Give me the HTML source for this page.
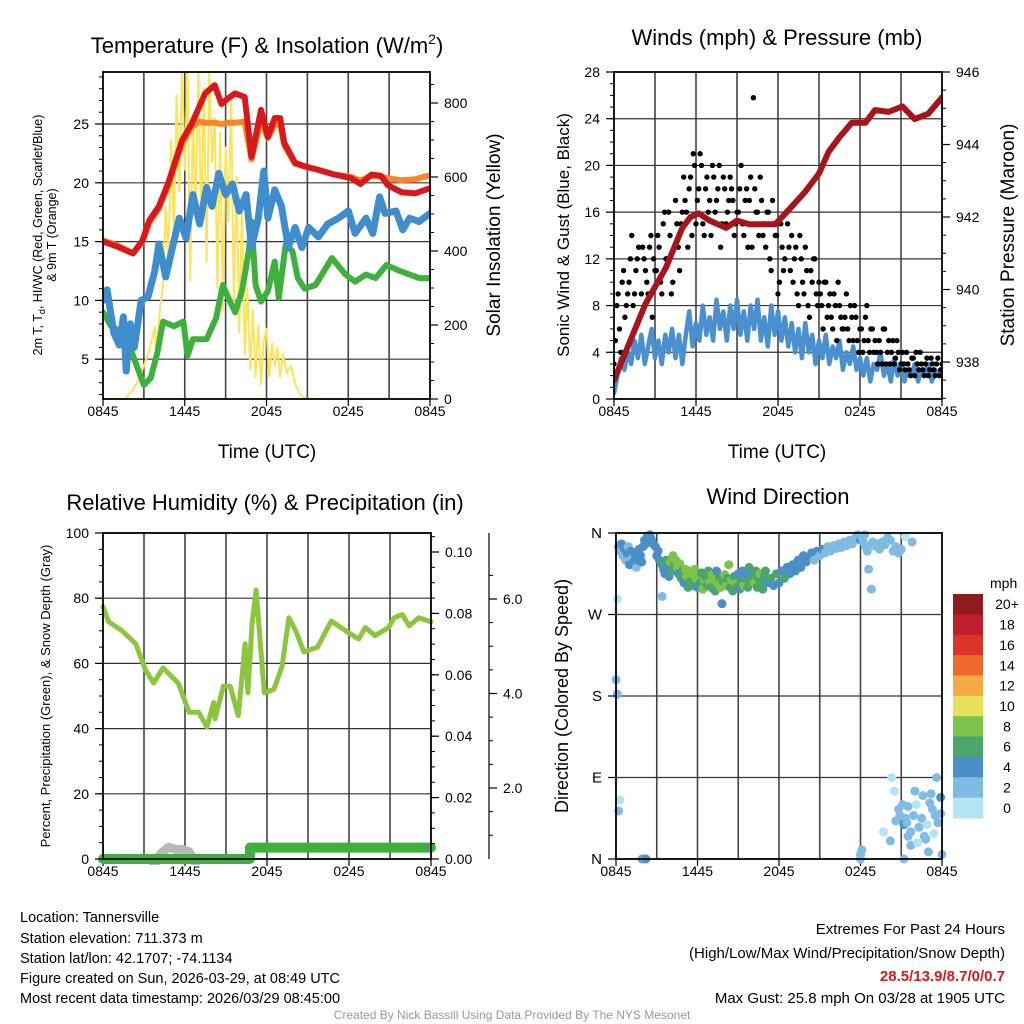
<!DOCTYPE html>
<html><head><meta charset="utf-8">
<style>
html,body{margin:0;padding:0;background:#fff;}
svg{display:block;font-family:"Liberation Sans",Arial,sans-serif;}
</style></head>
<body>
<svg id="c" width="1024" height="1024" viewBox="0 0 1024 1024" xmlns="http://www.w3.org/2000/svg">
<rect width="1024" height="1024" fill="#fff"/>
<text x="267" y="53" font-size="22" text-anchor="middle">Temperature (F) &amp; Insolation (W/m<tspan font-size="14" dy="-9">2</tspan><tspan dy="9">)</tspan></text>
<text x="777" y="45" font-size="22" text-anchor="middle">Winds (mph) &amp; Pressure (mb)</text>
<text x="265" y="510" font-size="22" text-anchor="middle">Relative Humidity (%) &amp; Precipitation (in)</text>
<text x="778" y="504" font-size="22" text-anchor="middle">Wind Direction</text>

<text transform="translate(42,235) rotate(-90)" font-size="12.5" text-anchor="middle">2m T, T<tspan font-size="9" dy="3">d</tspan><tspan dy="-3">, HI/WC (Red, Green, Scarlet/Blue)</tspan></text>
<text transform="translate(56,235) rotate(-90)" font-size="12.5" text-anchor="middle">&amp; 9m T (Orange)</text>
<text transform="translate(500,235) rotate(-90)" font-size="19" text-anchor="middle">Solar Insolation (Yellow)</text>
<text x="267" y="458" font-size="19" text-anchor="middle">Time (UTC)</text>
<text x="777" y="458" font-size="19" text-anchor="middle">Time (UTC)</text>
<text transform="translate(569,235) rotate(-90)" font-size="17" text-anchor="middle">Sonic Wind &amp; Gust (Blue, Black)</text>
<text transform="translate(1014,235) rotate(-90)" font-size="19" text-anchor="middle">Station Pressure (Maroon)</text>
<text transform="translate(50,696) rotate(-90)" font-size="13" text-anchor="middle">Percent, Precipitation (Green), &amp; Snow Depth (Gray)</text>
<text transform="translate(568,696) rotate(-90)" font-size="18" text-anchor="middle">Direction (Colored By Speed)</text>

<g font-size="14.5">
<text x="20" y="922">Location: Tannersville</text>
<text x="20" y="943">Station elevation: 711.373 m</text>
<text x="20" y="963">Station lat/lon: 42.1707; -74.1134</text>
<text x="20" y="983">Figure created on Sun, 2026-03-29, at 08:49 UTC</text>
<text x="20" y="1003">Most recent data timestamp: 2026/03/29 08:45:00</text>
</g>
<g font-size="15" text-anchor="end">
<text x="1005" y="934">Extremes For Past 24 Hours</text>
<text x="1005" y="958">(High/Low/Max Wind/Precipitation/Snow Depth)</text>
<text x="1005" y="981" fill="#d7191c" font-weight="bold">28.5/13.9/8.7/0/0.7</text>
<text x="1005" y="1003">Max Gust: 25.8 mph On 03/28 at 1905 UTC</text>
</g>
<text x="512" y="1019" font-size="12" fill="#999" text-anchor="middle">Created By Nick Bassill Using Data Provided By The NYS Mesonet</text>
<g id="g"></g>
</svg>
<script>
// ---------- DATA ----------
const xTickLabels = ["0845","1445","2045","0245","0845"];
// Panel 1 (hours since 0845)
const tempHours = [0,1,2.2,2.9,3.4,4.1,4.8,5.3,5.8,6.5,7,7.5,8.2,8.7,9.2,9.7,10.4,10.9,11.6,12.1,12.6,13,13.3,14.1,14.8,15.8,17,18.2,18.9,19.7,20.4,20.9,21.9,22.9,23.9];
const tempF = [15,14.6,14,15.1,16.8,18,20,21.8,23.6,25,26.3,27.6,28.3,26.7,27.2,27.6,27.3,22.2,26.2,23.9,25.5,25.5,23.4,21.7,21.4,21.1,20.7,20.4,19.9,20.7,20.6,19.8,19.2,19.1,19.5];
const temp9m = [15.1,14.7,14,15,16.6,17.8,19.8,21.5,23.3,24.7,25.2,25.1,25.1,25,25.1,25.1,25.2,22,25.2,23.8,24.9,25,23.2,21.6,21.4,21.1,20.7,20.5,20.2,20.6,20.5,20.4,20.2,20.3,20.6];
const chillHours = [0,0.3,0.8,1.2,1.5,1.7,2,2.3,2.8,3.3,3.8,4.1,4.6,5.1,5.6,6.1,6.6,7.1,7.6,8,8.5,9,9.5,10,10.5,10.9,11.4,11.8,12.1,12.6,13.1,13.6,14.1,14.6,15.1,15.8,16.5,17.3,18,18.5,19.3,19.8,20.3,20.7,21.5,22,22.5,23.2,24];
const windChill = [10,10.9,7.2,6.2,8.6,4,8,6,10,10.3,12.5,14.8,12,14.5,17,15.3,19,16.5,19.6,18,20.8,19,19.9,17.6,19,14.5,17,21,17,19.4,18,14.5,16.2,14.5,16.2,15.4,16.5,17,17.6,15.7,17,15.7,18.8,17.4,17.6,16,17,16.7,17.4];
const dewHours = [0,0.6,1.6,2.3,3,3.5,4,4.4,5.2,5.9,6.2,6.6,7.6,8.3,8.8,9.2,9.7,10.2,10.7,10.9,11.2,11.6,12.1,12.6,12.9,13.4,13.9,14.3,14.8,15.6,16.8,17.8,18.5,19.3,20,20.8,21.8,23.2,24];
const dewF = [9,7.8,7.2,5,2.8,3.4,5.6,8.2,7.8,8.2,5.3,6.7,6.7,8.5,11.3,10.2,9,10.8,14.2,16.7,11.3,9.9,10.8,13.3,10.2,14.7,14.2,11.9,11,11.3,13.6,12.2,11.6,12.2,11.9,13,12.5,11.9,11.9];
const solarHours = [0,1.6,2.2,2.6,3,3.4,3.8,3.9,4.2,4.4,4.6,4.8,5,5.2,5.4,5.6,5.8,6,6.2,6.4,6.6,6.8,7,7.2,7.4,7.6,7.8,8,8.2,8.4,8.6,8.8,9,9.2,9.4,9.6,9.8,10,10.2,10.4,10.6,10.8,11,11.2,11.4,11.6,11.8,12,12.2,12.4,12.6,12.8,13,13.2,13.5,13.8,14.1,14.5,15,24];
const solarW = [0,0,25,51,90,132,195,123,250,303,520,380,700,450,820,560,889,620,889,320,760,520,889,470,840,370,889,640,760,300,720,240,680,480,820,260,600,180,520,120,300,80,240,60,200,40,160,190,60,150,90,140,60,120,70,90,40,10,0,0];
// Panel 2
const sonicWind = [0.5,2,3.5,2.5,4,3,5,3.5,5.5,3,4.5,6,3.5,5,3,5.5,4,6,3.5,5.5,3,5.5,7.5,4.5,6.5,5,8,5.5,7,5,8.5,6,7.5,5,8,6,8.5,5.5,7.5,5,8,6,8.5,5,7,4.5,8,5.5,7.5,5,7,4.5,6.5,4,6,3.5,6.5,4,5.5,3,5,3.5,5.5,3,4.5,3.5,5,2.5,4,3,4.5,2.5,3.5,2,3.5,1.5,3,2.5,4,2,3,1.5,3.5,2,3,1.5,2.5,2,3,1.5,2.5,2,3,1.5,2.5,2,2.5];
const pressHours = [0,1.1,2.3,3.8,5,5.6,6.2,7,8.2,9,9.9,11,11.8,12.8,14,15,15.7,16.5,17.4,18.4,19.1,20.1,21.1,22,23,24];
const pressMb = [937.5,938.5,939.6,940.6,941.7,942,942.1,941.9,941.7,941.9,941.8,941.8,941.8,942.2,942.7,943.2,943.8,944.2,944.6,944.6,944.95,944.9,945.05,944.7,944.85,945.3];
const gustMph = [3,8,6,10,7,9,12,8,11,13,9,12,10,13,7,11,14,10,15,12,16,9,13,15,11,16,17,13,19,21,15,18,20,14,19,17,20,16,18,13,19,15,17,18,14,16,18,15,17,13,19,25.8,16,14,17,15,16,12,17,14,9,15,11,16,13,14,12,9,14,10,13,8,11,12,9,10,8,10,7,9,6,8,10,7,6,9,5,7,8,5,6,4,7,5,6,4,4,5,3,6,4,3,5,3.5,4,3,3,4,2.5,3.5,2,3,4,2.5,3,2,3.5,2.5,3,2,3];
const gustMph2 = [5,9,4,11,8,10,14,9,12,7,13,11,9,14,12,11,13,9,16,12,14,10,17,13,15,19,16,18,14,20,17,21,15,18,16,14,19,17,20,15,18,16,19,17,15,16,20,14,18,17,13,18,16,19,14,13,16,11,15,14,10,13,12,15,11,10,13,8,12,9,11,7,10,12,8,9,6,10,8,7,9,5,8,6,7,6,8,5,7,4,6,5,8,4,6,5,3,4,6,3,5,4,3,5,2.5,4,2.5,3,2,3.5,4,2.5,3,2,3.5,2.5,3,2,3.5,2.5];
// Panel 3
const rhHours = [0,0.4,1.4,2.4,3.1,3.7,4.4,5.5,6.3,7,7.6,8.1,8.2,8.8,9.3,9.9,10.4,10.6,10.9,11.2,11.8,12.5,13.1,13.6,14.1,14.7,15.7,16.7,17.9,18.7,19.2,19.9,20.9,21.3,21.9,22.4,23.1,24];
const rhPct = [77.4,72.8,70,66,58,54,58.6,54,45,45,40.5,48,43,53,53,44,66,51,72,82.5,51,52,59,74,70,63.5,65,73,69.6,67.5,71,68.5,71,74,75,71.5,74,72.8];
const precipHours = [0,10.75,10.75,24];
const precipIn = [0,0,0.0037,0.0037];
const snowHours = [3.7,4.2,4.8,5.3,5.8,6.3,6.8];
const snowDepth = [0.35,0.6,0.75,0.7,0.7,0.65,0.4];
// Panel 4
const dirHours = [0.2,0.3,0.4,0.5,0.6,0.7,0.8,0.9,1.0,1.1,1.2,1.3,1.4,1.5,1.6,1.7,1.8,1.9,2.0,
 2.1,2.2,2.3,2.4,2.5,2.6,2.7,2.8,2.9,3.0,3.1,3.2,
 3.4,3.5,3.6,3.7,3.8,3.9,4.0,4.1,4.2,4.3,4.4,4.5,4.6,4.7,4.8,4.9,5.0,5.1,5.2,5.3,5.4,5.5,5.6,5.7,5.8,5.9,
 6.0,6.1,6.2,6.3,6.4,6.5,6.6,6.7,6.8,6.9,7.0,7.1,7.2,7.3,7.4,7.5,7.6,7.7,7.8,7.9,8.0,8.1,8.2,8.3,8.4,8.5,8.6,8.7,8.8,8.9,9.0,9.1,9.2,9.3,9.4,9.5,9.6,9.7,9.8,9.9,10.0,10.1,10.2,10.3,10.4,10.5,10.6,10.7,10.8,10.9,11.0,11.2,11.4,11.6,11.8,
 12.0,12.2,12.4,12.6,12.8,13.0,13.2,13.4,13.6,13.8,14.0,14.2,14.4,14.6,14.8,15.0,15.2,
 15.4,15.6,15.8,16.0,16.2,16.4,16.6,16.8,17.0,17.2,17.4,17.6,
 17.8,17.9,18.0,18.1,18.2,18.3,18.4,18.5,18.6,18.8,18.9,19.0,19.2,19.4,19.6,19.8,20.0,20.2,20.4,20.6,20.8,21.0,21.3,21.8,
 0.1,0.0,0.1,0.3,0.2,3.4,1.9,2.0,2.1,2.2,
 18.0,18.0,18.1,20.3,20.5,20.8,20.6,20.9,21.1,21.3,21.5,21.2,21.7,21.9,22.1,22.3,22.5,22.7,22.9,23.1,23.3,23.5,23.7,23.9,23.6,23.9,23.2,22.6,22.0,21.7,21.5,21.2,22.2,22.8,24.0,23.4,19.7,21.4,20.2,23.0];
const dirDeg = [345,340,348,335,343,330,338,345,325,340,332,328,336,322,330,342,335,328,345,
 352,348,356,350,358,353,349,347,345,335,340,330,
 325,320,315,330,322,312,328,318,335,325,330,322,315,326,310,318,305,320,312,300,318,307,315,302,320,310,
 300,312,305,316,298,308,312,302,318,306,300,314,308,296,318,304,312,300,282,306,314,302,310,325,300,308,296,312,304,300,315,298,306,318,302,310,314,300,322,308,316,312,305,318,300,310,315,306,298,312,318,305,310,302,315,
 305,318,310,322,315,325,318,330,322,335,328,332,338,330,340,335,342,
 338,345,340,346,343,348,344,350,346,352,348,354,
 358,355,352,356,350,358,345,340,320,298,350,346,348,342,350,347,355,352,340,345,338,342,356,350,
 287,198,182,65,53,290,0,0,0,0,
 5,0,10,90,75,55,42,48,60,45,58,38,30,48,60,35,45,25,38,62,55,48,40,50,90,68,72,70,75,15,25,0,18,22,5,28,30,40,20,8];
const dirSpeed = [4,3,4,3,4,2,4,3,4,4,3,4,4,2,4,4,5,4,4,
 5,4,4,4,4,4,4,4,4,4,4,4,
 6,4,4,6,4,4,8,6,8,6,8,8,4,8,6,6,4,8,8,6,8,6,8,6,8,8,
 4,8,6,6,8,8,6,6,6,8,6,8,8,6,4,8,6,8,4,6,8,8,6,8,6,8,6,6,8,6,4,4,6,4,8,6,4,6,6,6,4,6,8,6,6,6,8,6,6,6,6,4,6,4,6,
 4,4,6,4,4,4,4,4,4,4,4,4,4,3,4,3,4,
 2,3,2,2,3,2,2,3,2,2,3,2,
 2,2,4,3,2,2,2,2,2,2,2,2,2,3,2,2,2,2,3,2,3,2,1,2,
 1,2,2,1,3,2,3,4,3,4,
 3,2,3,1,1,3,2,3,2,3,3,4,2,2,1,3,2,3,1,3,2,3,2,3,3,4,3,2,3,3,2,2,1,2,2,1,1,2,2,2];
const legendLabels = ["20+","18","16","14","12","10","8","6","4","2","0"];
const speedColors = ["#b5e3f6","#7fbbe3","#4a8fc6","#4aa56e","#7dc24a","#e8e05a","#f5a945","#ee6a2c","#dc3528","#be1e2d","#8e1b1e"];

// ---------- DRAW ----------
const NS="http://www.w3.org/2000/svg";
const G=document.getElementById('g');
function mk(tag,attrs,parent){const e=document.createElementNS(NS,tag);for(const k in attrs)e.setAttribute(k,attrs[k]);(parent||G).appendChild(e);return e;}
function lin(d0,d1,r0,r1){return v=>r0+(v-d0)*(r1-r0)/(d1-d0);}
function stepHours(n,start,step){const r=[];for(let i=0;i<n;i++)r.push(start+i*step);return r;}

function panel(P){
  const g=mk('g',{});
  
  
  for(let h=3;h<24;h+=3){const l=mk('line',{x1:P.x(h),x2:P.x(h),y1:P.top,y2:P.bot,stroke:'#444','stroke-width':1.6},g);
    }
  P.hgrid.forEach(v=>{const l=mk('line',{x1:P.l,x2:P.r,y1:P.y(v),y2:P.y(v),stroke:'#333','stroke-width':1.2},g);
    });
  xTickLabels.forEach((s,i)=>{const xx=P.x(i*6);
    mk('line',{x1:xx,x2:xx,y1:P.bot,y2:P.bot+7,stroke:'#000','stroke-width':1.2},g);
    const t=mk('text',{x:xx,y:P.bot+17,'font-size':14,'text-anchor':'middle'},g);t.textContent=s;
    });
  return g;
}
function frame(P,g){mk('rect',{x:P.l,y:P.top,width:P.r-P.l,height:P.bot-P.top,fill:'none',stroke:'#000','stroke-width':1.8},g);}
function yAxis(g,xpos,side,y,ticks,labels,minor,fs){
  ticks.forEach((v,i)=>{const yy=y(v);mk('line',{x1:xpos,x2:xpos+side*8,y1:yy,y2:yy,stroke:'#000','stroke-width':1.2},g);
    const t=mk('text',{x:xpos+side*14,y:yy+5,'font-size':fs||14,'text-anchor':side<0?'end':'start'},g);t.textContent=labels[i];
    });
  minor.forEach(v=>mk('line',{x1:xpos,x2:xpos+side*4,y1:y(v),y2:y(v),stroke:'#000','stroke-width':1},g));
}
function path(g,xs,ys,fx,fy,col,w,name){const d=xs.map((h,i)=>(i?'L':'M')+fx(h).toFixed(1)+','+fy(ys[i]).toFixed(1)).join('');
  const p=mk('path',{d:d,fill:'none',stroke:col,'stroke-width':w,'stroke-linejoin':'round','stroke-linecap':'round'},g);
  return p;}
function rng(a,b,s){const r=[];for(let v=a;v<=b+1e-9;v+=s)r.push(+v.toFixed(4));return r;}

// Panel 1
{const P={name:'temperature-panel',l:103,r:430,top:72,bot:399};
 P.x=lin(0,24,P.l,P.r);P.y=lin(0,25,418,124);P.hgrid=[5,10,15,20,25];
 const ys=lin(0,800,399,103);
 const g=panel(P);
 const cp=mk('clipPath',{id:'cp1'},g);mk('rect',{x:P.l,y:P.top,width:P.r-P.l,height:P.bot-P.top},cp);
 const d=mk('g',{'clip-path':'url(#cp1)'},g);
 path(d,solarHours,solarW,P.x,ys,'#fde35a',2,'solar-line');
 path(d,dewHours,dewF,P.x,P.y,'#3db03d',6,'dewpoint-line');
 path(d,chillHours,windChill,P.x,P.y,'#3f8dcc',7,'windchill-line');
 path(d,tempHours,temp9m,P.x,P.y,'#f5862a',6,'temp-9m-line');
 path(d,tempHours,tempF,P.x,P.y,'#d7191c',6,'temp-2m-line');
 frame(P,g);
 yAxis(g,P.l,-1,P.y,[5,10,15,20,25],['5','10','15','20','25'],rng(2,29,1),14);
 yAxis(g,P.r,1,ys,[0,200,400,600,800],['0','200','400','600','800'],rng(0,850,50),14);}

// Panel 2
{const P={name:'wind-panel',l:614,r:942,top:72,bot:399};
 P.x=lin(0,24,P.l,P.r);P.y=lin(0,28,399,72);P.hgrid=[4,8,12,16,20,24];
 const yp=lin(938,946,362,72);
 const g=panel(P);
 const cp=mk('clipPath',{id:'cp2'},g);mk('rect',{x:P.l,y:P.top,width:P.r-P.l,height:P.bot-P.top},cp);
 const d=mk('g',{'clip-path':'url(#cp2)'},g);
 const windHours=stepHours(sonicWind.length,0,0.25);
 path(d,windHours,sonicWind,P.x,P.y,'#4a90cf',4.5,'sonic-wind-line');
 const gh1=stepHours(gustMph.length,0,0.2), gh2=stepHours(gustMph2.length,0.1,0.2);
 gustMph.forEach((v,i)=>{const c=mk('circle',{cx:P.x(gh1[i]),cy:P.y(v),r:2.7,fill:'#000'},d);
   });
 gustMph2.forEach((v,i)=>{const c=mk('circle',{cx:P.x(gh2[i]),cy:P.y(v),r:2.7,fill:'#000'},d);
   });
 path(d,pressHours,pressMb,P.x,yp,'#a8141c',6,'pressure-line');
 frame(P,g);
 yAxis(g,P.l,-1,P.y,[0,4,8,12,16,20,24,28],['0','4','8','12','16','20','24','28'],rng(0,28,1),14);
 yAxis(g,P.r,1,yp,[938,940,942,944,946],['938','940','942','944','946'],rng(937,946,0.5),14);}

// Panel 3
{const P={name:'humidity-panel',l:103,r:431,top:533,bot:859};
 P.x=lin(0,24,P.l,P.r);P.y=lin(0,100,859,533);P.hgrid=[20,40,60,80];
 const ypr=lin(0,0.1,859,552);const ysn=lin(2,6,788,599);
 const g=panel(P);
 const cp=mk('clipPath',{id:'cp3'},g);mk('rect',{x:P.l-6,y:P.top,width:P.r-P.l+12,height:P.bot-P.top+6},cp);
 const d=mk('g',{'clip-path':'url(#cp3)'},g);
 path(d,snowHours,snowDepth,P.x,ysn,'#b8b8b8',9,'snow-depth-line');
 path(d,rhHours,rhPct,P.x,P.y,'#8cc63f',5,'rh-line');
 path(d,precipHours,precipIn,P.x,ypr,'#3db03d',10,'precip-line');
 frame(P,g);
 yAxis(g,P.l,-1,P.y,[0,20,40,60,80,100],['0','20','40','60','80','100'],rng(0,100,5),14);
 yAxis(g,P.r,1,ypr,[0,0.02,0.04,0.06,0.08,0.1],['0.00','0.02','0.04','0.06','0.08','0.10'],rng(0,0.105,0.005),14);
 mk('line',{x1:489,x2:489,y1:533,y2:859,stroke:'#000','stroke-width':1.2},g);
 yAxis(g,489,1,ysn,[2,4,6],['2.0','4.0','6.0'],rng(1,6.5,0.5),14);}

// Panel 4
{const P={name:'direction-panel',l:616,r:942,top:533,bot:859};
 P.x=lin(0,24,P.l,P.r);P.y=lin(0,360,859,533);P.hgrid=[90,180,270];
 const g=panel(P);
 const cp=mk('clipPath',{id:'cp4'},g);mk('rect',{x:P.l-6,y:P.top-6,width:P.r-P.l+12,height:P.bot-P.top+12},cp);
 const d=mk('g',{'clip-path':'url(#cp4)'},g);
 dirHours.forEach((h,i)=>{const s=dirSpeed[i];const ci=Math.min(10,Math.floor(s/2));
   const c=mk('circle',{cx:P.x(h),cy:P.y(dirDeg[i]),r:4.5,fill:speedColors[ci]},d);
   });
 frame(P,g);
 yAxis(g,P.l,-1,P.y,[0,90,180,270,360],['N','E','S','W','N'],[],15);
 const lg=mk('g',{},G);
 const t=mk('text',{x:990,y:588,'font-size':14},lg);t.textContent='mph';
 const n=legendLabels.length,top=594,h=(818-594)/n;
 legendLabels.forEach((s,i)=>{const ci=n-1-i;
   const r=mk('rect',{x:953,y:top+i*h,width:30,height:h+0.5,fill:speedColors[ci]},lg);
   
   const tt=mk('text',{x:1007,y:top+i*h+h/2+5,'font-size':14,'text-anchor':'middle'},lg);tt.textContent=s;
   });
}
</script>
</body></html>
